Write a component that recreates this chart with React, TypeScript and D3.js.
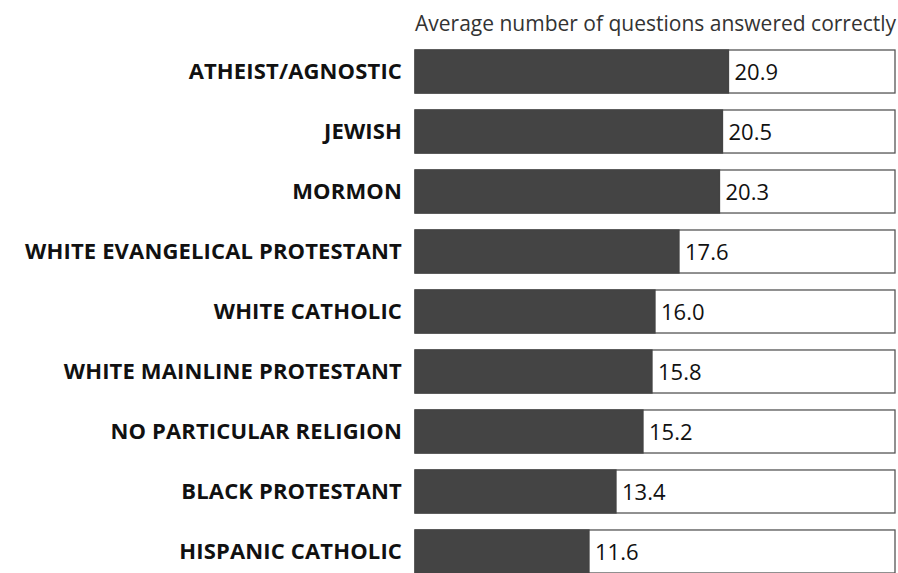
import React, { useEffect, useRef } from 'react';
import * as d3 from 'd3';

const categories = [
  'ATHEIST/AGNOSTIC',
  'JEWISH',
  'MORMON',
  'WHITE EVANGELICAL PROTESTANT',
  'WHITE CATHOLIC',
  'WHITE MAINLINE PROTESTANT',
  'NO PARTICULAR RELIGION',
  'BLACK PROTESTANT',
  'HISPANIC CATHOLIC',
];
const scores = [20.9, 20.5, 20.3, 17.6, 16.0, 15.8, 15.2, 13.4, 11.6];
const maxQuestions = 32;
const title = 'Average number of questions answered correctly';

const W = 898;
const H = 573;
const font = '"Open Sans", "Noto Sans", sans-serif';

const App: React.FC = () => {
  const svgRef = useRef<SVGSVGElement | null>(null);

  useEffect(() => {
    if (!svgRef.current) return;
    const svg = d3.select(svgRef.current);
    svg.selectAll('*').remove();

    const x = d3.scaleLinear().domain([0, maxQuestions]).range([415, 895]);
    const y = d3.scaleBand<string>()
      .domain(categories)
      .range([50, 573])
      .paddingInner(0.283)
      .paddingOuter(0);

    const rows = svg.selectAll('g.row')
      .data(categories.map((c, i) => ({ cat: c, val: scores[i] })))
      .enter()
      .append('g')
      .attr('class', 'row');

    // outline box for the full 32 questions
    rows.append('rect')
      .attr('x', x(0))
      .attr('y', d => y(d.cat) || 0)
      .attr('width', x(maxQuestions) - x(0))
      .attr('height', y.bandwidth())
      .attr('fill', '#fff')
      .attr('stroke', '#555')
      .attr('stroke-width', 1.3);

    rows.append('rect')
      .attr('x', x(0))
      .attr('y', d => y(d.cat) || 0)
      .attr('width', d => x(d.val) - x(0))
      .attr('height', y.bandwidth())
      .attr('fill', '#444')
      .attr('stroke', '#444')
      .attr('stroke-width', 1.3);

    rows.append('text')
      .attr('x', d => x(d.val) + 6)
      .attr('y', d => (y(d.cat) || 0) + y.bandwidth() / 2)
      .attr('dy', '0.37em')
      .attr('font-family', font)
      .attr('font-size', 22)
      .attr('fill', '#111')
      .text(d => d.val.toFixed(1));

    rows.append('text')
      .attr('x', 402)
      .attr('y', d => (y(d.cat) || 0) + y.bandwidth() / 2)
      .attr('dy', '0.36em')
      .attr('text-anchor', 'end')
      .attr('font-family', font)
      .attr('font-weight', 'bold')
      .attr('font-size', 22)
      .attr('letter-spacing', 0.15)
      .attr('fill', '#111')
      .text(d => d.cat);

    svg.append('text')
      .attr('x', 415)
      .attr('y', 31)
      .attr('font-family', font)
      .attr('font-size', 21)
      .attr('fill', '#333')
      .text(title);
  }, []);

  return (
    <svg
      ref={svgRef}
      width={W}
      height={H}
      style={{ position: 'absolute', left: 0, top: 0, background: '#fff' }}
    />
  );
};

export default App;
